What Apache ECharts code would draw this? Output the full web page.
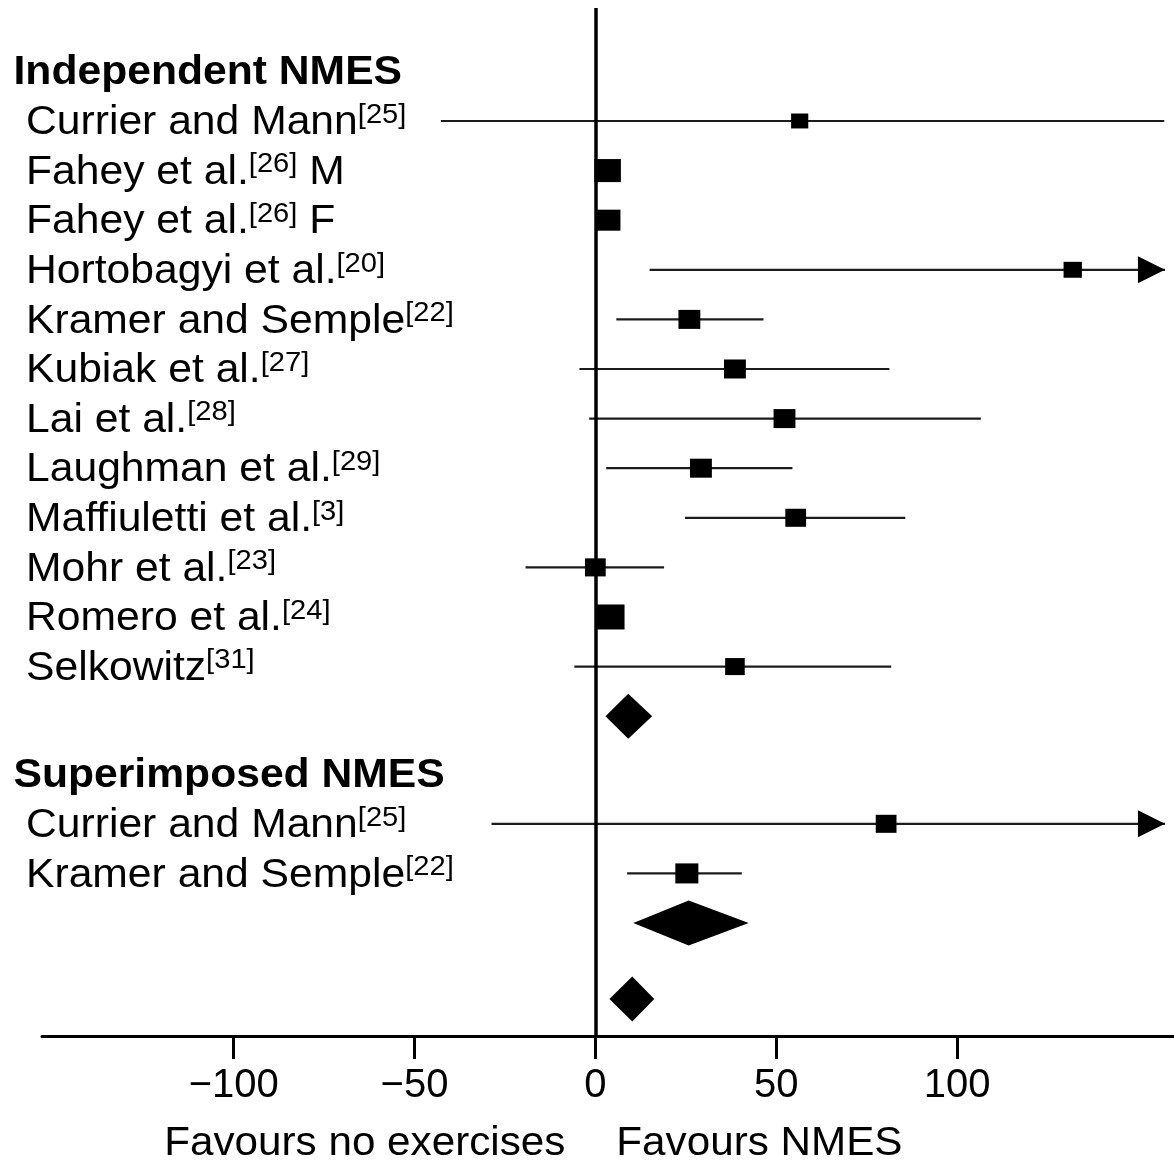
<!DOCTYPE html>
<html>
<head>
<meta charset="utf-8">
<script src="https://cdn.jsdelivr.net/npm/echarts@6/dist/echarts.min.js"></script>
<style>
html,body{margin:0;padding:0;background:#fff;}
#chart{width:1174px;height:1163px;}
</style>
</head>
<body>
<div id="chart"></div>
<script>
// ---------- DATA ----------
const groupTitles = ['Independent NMES', 'Superimposed NMES'];

// Independent NMES
const indStudies = ['Currier and Mann', 'Fahey et al.', 'Fahey et al.', 'Hortobagyi et al.', 'Kramer and Semple',
  'Kubiak et al.', 'Lai et al.', 'Laughman et al.', 'Maffiuletti et al.', 'Mohr et al.', 'Romero et al.', 'Selkowitz'];
const indRefs = ['25', '26', '26', '20', '22', '27', '28', '29', '3', '23', '24', '31'];
const indSuffix = ['', ' M', ' F', '', '', '', '', '', '', '', '', ''];
const indEffect = [56.5, 3.4, 3.6, 132, 26, 38.6, 52.3, 29.2, 55.4, 0, 4.1, 38.6];
const indLower = [-42.7, 0.6, 0.8, 15, 5.8, -4.4, -1.7, 3, 24.8, -19.3, 0.9, -5.8];
const indUpper = [157.3, 6.2, 6.4, 249, 46.5, 81.3, 106.6, 54.5, 85.7, 19, 7.3, 81.8];
const indWeight = [5.0, 11.9, 9.9, 5.7, 8.1, 8.1, 8.1, 8.1, 7.3, 7.3, 14.0, 6.5];
const indPooled = [2.8, 9.1, 15.7];        // lower, estimate, upper

// Superimposed NMES
const supStudies = ['Currier and Mann', 'Kramer and Semple'];
const supRefs = ['25', '22'];
const supSuffix = ['', ''];
const supEffect = [80.4, 25.3];
const supLower = [-28.7, 8.8];
const supUpper = [189.5, 40.5];
const supWeight = [7.3, 9.0];
const supPooled = [10.5, 25.8, 42.4];

// Overall
const overallPooled = [3.9, 10.2, 16.3];

// Axis
const xTicks = [-100, -50, 0, 50, 100];
const favourLabels = ['Favours no exercises', 'Favours NMES'];

// ---------- LAYOUT ----------
const X_MIN = -153, X_MAX = 160, X_CLIP = 157.5;
const FONT = 'Liberation Sans, Arial, Helvetica, sans-serif';
const SUP_BASE = 14.17;
const rowIndHeader = 0;
const rowsInd = indStudies.map((_, i) => i + 1);
const rowIndPooled = indStudies.length + 1;
const rowSupHeader = SUP_BASE;
const rowsSup = supStudies.map((_, i) => SUP_BASE + i + 1);
const rowSupPooled = SUP_BASE + supStudies.length + 1;
const rowOverall = 18.7;

const studyData = [];
indStudies.forEach((_, i) => studyData.push([indEffect[i], indLower[i], indUpper[i], indWeight[i], rowsInd[i]]));
supStudies.forEach((_, i) => studyData.push([supEffect[i], supLower[i], supUpper[i], supWeight[i], rowsSup[i]]));

const pooledData = [
  [indPooled[0], indPooled[1], indPooled[2], rowIndPooled],
  [supPooled[0], supPooled[1], supPooled[2], rowSupPooled],
  [overallPooled[0], overallPooled[1], overallPooled[2], rowOverall]
];

const labelItems = [];
labelItems.push({ text: '{b|' + groupTitles[0] + '}', header: true, row: rowIndHeader });
indStudies.forEach((s, i) => labelItems.push({
  text: '{n|' + s + '}{s|[' + indRefs[i] + ']}' + (indSuffix[i] ? '{n|' + indSuffix[i] + '}' : ''),
  header: false, row: rowsInd[i] }));
labelItems.push({ text: '{b|' + groupTitles[1] + '}', header: true, row: rowSupHeader });
supStudies.forEach((s, i) => labelItems.push({
  text: '{n|' + s + '}{s|[' + supRefs[i] + ']}' + (supSuffix[i] ? '{n|' + supSuffix[i] + '}' : ''),
  header: false, row: rowsSup[i] }));

// ---------- RENDER ----------
function renderStudy(params, api) {
  const est = api.value(0), lo = api.value(1), hi = api.value(2), w = api.value(3), row = api.value(4);
  const hiC = Math.min(hi, X_CLIP);
  const p0 = api.coord([lo, row]);
  const p1 = api.coord([hiC, row]);
  const pc = api.coord([est, row]);
  const h = 6.68 * Math.sqrt(w);
  const wd = h * 1.15;
  const children = [
    { type: 'line', shape: { x1: p0[0], y1: p0[1], x2: p1[0], y2: p1[1] },
      style: { stroke: '#1c1c1c', lineWidth: 2.2 } },
    { type: 'rect', shape: { x: pc[0] - wd / 2, y: pc[1] - h / 2, width: wd, height: h },
      style: { fill: '#000' } }
  ];
  if (hi > X_CLIP) {
    children.push({ type: 'polygon',
      shape: { points: [[p1[0], p1[1]], [p1[0] - 27, p1[1] - 13.5], [p1[0] - 27, p1[1] + 13.5]] },
      style: { fill: '#000' } });
  }
  return { type: 'group', children };
}

function renderPooled(params, api) {
  const lo = api.value(0), est = api.value(1), hi = api.value(2), row = api.value(3);
  const a = api.coord([lo, row]), c = api.coord([est, row]), b = api.coord([hi, row]);
  const hh = 22.5;
  return { type: 'polygon',
    shape: { points: [[a[0], a[1]], [c[0], c[1] - hh], [b[0], b[1]], [c[0], c[1] + hh]] },
    style: { fill: '#000' } };
}

const rich = {
  n: { fontSize: 41, fontFamily: FONT, lineHeight: 44, verticalAlign: 'middle', fill: '#000' },
  s: { fontSize: 28, fontFamily: FONT, lineHeight: 38, verticalAlign: 'top', fill: '#000' },
  b: { fontSize: 41, fontFamily: FONT, fontWeight: 'bold', lineHeight: 44, verticalAlign: 'middle', fill: '#000' }
};

function renderLabel(params, api) {
  const item = labelItems[params.dataIndex];
  const cs = params.coordSys;
  const y = api.coord([0, item.row])[1];
  return {
    type: 'text',
    x: item.header ? cs.x - 28.5 : cs.x - 16,
    y: item.header ? y + 1.5 : y + 2,
    scaleX: 1.04,
    style: { text: item.text, rich: rich, fill: '#000', align: 'left', verticalAlign: 'middle',
      fontSize: 41, fontFamily: FONT }
  };
}

const chart = echarts.init(document.getElementById('chart'), null, { renderer: 'canvas' });
const option = {
  backgroundColor: '#fff',
  animation: false,
  grid: { left: 42, right: 0, top: 8, bottom: 127, containLabel: false },
  xAxis: {
    type: 'value', min: X_MIN, max: X_MAX,
    axisLine: { show: true, onZero: false, lineStyle: { color: '#000', width: 3 } },
    axisTick: { show: true, customValues: xTicks, length: 23, lineStyle: { color: '#000', width: 3 } },
    axisLabel: { show: true, customValues: xTicks, fontSize: 40, fontFamily: FONT, color: '#000', margin: 30,
      formatter: v => String(v).replace('-', '\u2212') },
    splitLine: { show: false }
  },
  yAxis: {
    type: 'value', inverse: true, min: -1.278, max: 19.448, show: false
  },
  series: [
    {
      type: 'custom', name: 'studies', renderItem: renderStudy, data: studyData, clip: false, z: 3,
      markLine: {
        silent: true, symbol: 'none', label: { show: false }, animation: false,
        lineStyle: { color: '#000', width: 3.5, type: 'solid' },
        data: [{ xAxis: 0 }]
      }
    },
    { type: 'custom', name: 'pooled', renderItem: renderPooled, data: pooledData, clip: false, z: 3 },
    { type: 'custom', name: 'labels', renderItem: renderLabel,
      data: labelItems.map(l => [X_MIN, l.row]), clip: false, z: 4 }
  ]
};
chart.setOption(option);

const x0 = chart.convertToPixel({ xAxisIndex: 0 }, 0);
chart.setOption({
  graphic: [
    { type: 'text', x: x0 - 30, y: 1144, scaleX: 1.055,
      style: { text: favourLabels[0], fontSize: 40, fontFamily: FONT, fill: '#000', align: 'right', verticalAlign: 'middle' } },
    { type: 'text', x: x0 + 21, y: 1144, scaleX: 1.055,
      style: { text: favourLabels[1], fontSize: 40, fontFamily: FONT, fill: '#000', align: 'left', verticalAlign: 'middle' } }
  ]
});
</script>
</body>
</html>
